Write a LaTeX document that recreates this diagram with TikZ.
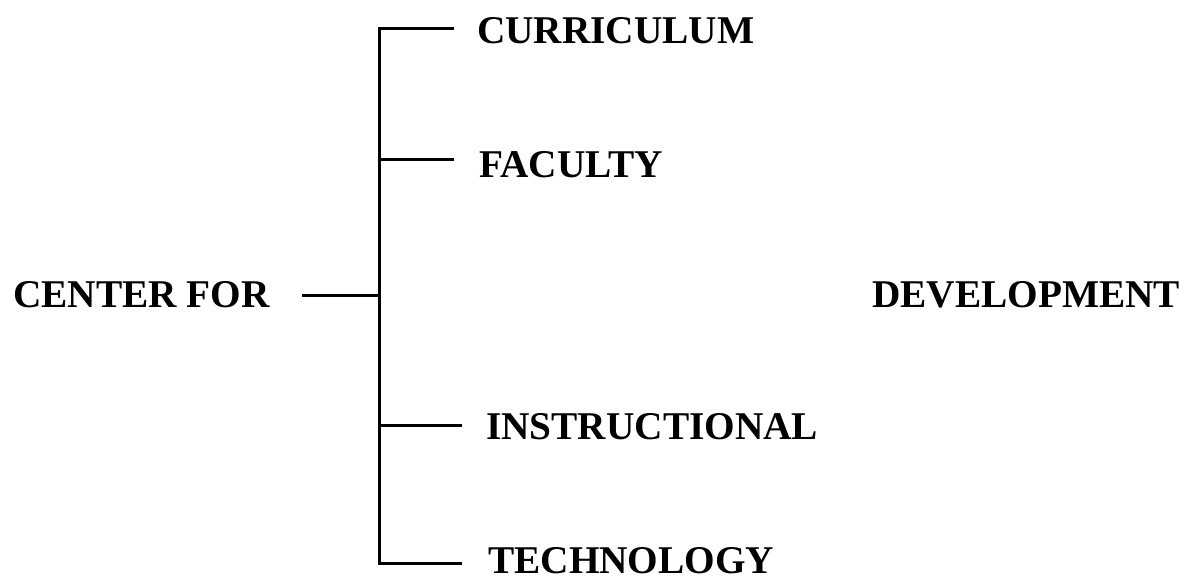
\documentclass[tikz,border=0pt]{standalone}
\usepackage{fontspec}
\setmainfont{Liberation Serif}
\begin{document}
\begin{tikzpicture}[x=1pt,y=-1pt,
  lbl/.style={anchor=base west,inner sep=0pt,font=\fontsize{39.3}{40}\selectfont\bfseries},
  conn/.style={line width=3pt,line cap=butt,line join=miter}]
\useasboundingbox[fill=white] (0,0) rectangle (1191,582);
\node[lbl] (cf)  at (13,307)  {CENTER FOR};
\node[lbl] (cur) at (477,43)  {CURRICULUM};
\node[lbl] (fac) at (479,177) {FACULTY};
\node[lbl] (ins) at (486,439) {INSTRUCTIONAL};
\node[lbl] (tec) at (488,573) {TECHNOLOGY};
\node[lbl] (dev) at (872,307) {DEVELOPMENT};
\coordinate (cfend) at (302,295);
\coordinate (jc) at (379,295);
\coordinate (jtop) at (379,28);
\coordinate (jfac) at (379,159);
\coordinate (jins) at (379,425);
\coordinate (jbot) at (379,563);
\coordinate (ecur) at (454,28);
\coordinate (efac) at (454,159);
\coordinate (eins) at (462,425);
\coordinate (etec) at (462,563);
\draw[conn] (ecur) -- (jtop) -- (jbot) -- (etec);
\draw[conn] (jfac) -- (efac);
\draw[conn] (jins) -- (eins);
\draw[conn] (cfend) -- (jc);
\end{tikzpicture}
\end{document}
